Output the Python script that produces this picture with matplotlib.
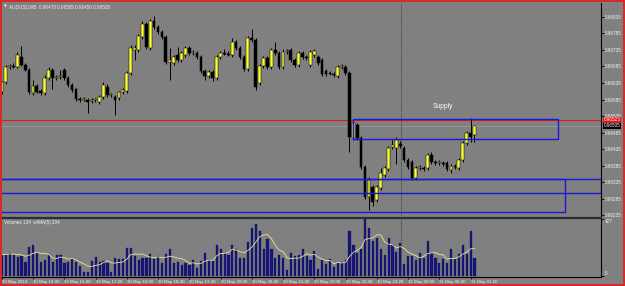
import matplotlib
matplotlib.use("Agg")
import matplotlib.pyplot as plt
import numpy as np
import pandas as pd
from matplotlib.patches import Rectangle

# AUDUSD M5, 30 May 15:20 .. 31 May 01:25
opens = [0.96608, 0.96638, 0.96684, 0.96687, 0.96684, 0.96714, 0.96690, 0.96674, 0.96605, 0.96626,
         0.96611, 0.96605, 0.96650, 0.96674, 0.96650, 0.96653, 0.96674, 0.96650, 0.96629, 0.96617,
         0.96587, 0.96584, 0.96584, 0.96581, 0.96584, 0.96578, 0.96593, 0.96623, 0.96599, 0.96593,
         0.96590, 0.96608, 0.96611, 0.96665, 0.96735, 0.96735, 0.96774, 0.96814, 0.96741, 0.96823,
         0.96805, 0.96790, 0.96774, 0.96699, 0.96696, 0.96720, 0.96705, 0.96720, 0.96741, 0.96726,
         0.96726, 0.96714, 0.96671, 0.96656, 0.96668, 0.96650, 0.96714, 0.96726, 0.96723, 0.96720,
         0.96759, 0.96741, 0.96714, 0.96677, 0.96771, 0.96765, 0.96635, 0.96687, 0.96711, 0.96684,
         0.96735, 0.96726, 0.96684, 0.96729, 0.96735, 0.96705, 0.96690, 0.96726, 0.96714, 0.96690,
         0.96720, 0.96714, 0.96705, 0.96671, 0.96665, 0.96662, 0.96656, 0.96684, 0.96684, 0.96665,
         0.96468, 0.96508, 0.96468, 0.96380, 0.96290, 0.96320, 0.96280, 0.96317, 0.96356, 0.96374,
         0.96441, 0.96438, 0.96450, 0.96438, 0.96402, 0.96396, 0.96347, 0.96377, 0.96377, 0.96377,
         0.96417, 0.96396, 0.96393, 0.96393, 0.96393, 0.96371, 0.96384, 0.96377, 0.96402, 0.96453,
         0.96484, 0.96478]
highs = [0.96641, 0.96690, 0.96693, 0.96696, 0.96729, 0.96747, 0.96696, 0.96680, 0.96644, 0.96632,
         0.96617, 0.96659, 0.96684, 0.96680, 0.96659, 0.96674, 0.96680, 0.96656, 0.96635, 0.96620,
         0.96593, 0.96593, 0.96590, 0.96590, 0.96590, 0.96599, 0.96638, 0.96632, 0.96605, 0.96599,
         0.96611, 0.96620, 0.96671, 0.96750, 0.96750, 0.96783, 0.96823, 0.96820, 0.96829, 0.96838,
         0.96811, 0.96796, 0.96780, 0.96741, 0.96720, 0.96744, 0.96732, 0.96747, 0.96747, 0.96735,
         0.96732, 0.96720, 0.96677, 0.96674, 0.96674, 0.96720, 0.96732, 0.96738, 0.96732, 0.96771,
         0.96765, 0.96747, 0.96720, 0.96777, 0.96799, 0.96771, 0.96693, 0.96717, 0.96717, 0.96741,
         0.96759, 0.96732, 0.96738, 0.96738, 0.96741, 0.96711, 0.96732, 0.96732, 0.96720, 0.96735,
         0.96738, 0.96720, 0.96711, 0.96677, 0.96671, 0.96668, 0.96690, 0.96693, 0.96690, 0.96671,
         0.96523, 0.96514, 0.96474, 0.96386, 0.96350, 0.96326, 0.96326, 0.96377, 0.96383, 0.96444,
         0.96462, 0.96471, 0.96459, 0.96444, 0.96408, 0.96402, 0.96383, 0.96386, 0.96383, 0.96423,
         0.96426, 0.96402, 0.96402, 0.96399, 0.96399, 0.96390, 0.96390, 0.96408, 0.96459, 0.96490,
         0.96529, 0.96505]
lows = [0.96602, 0.96632, 0.96678, 0.96680, 0.96680, 0.96687, 0.96671, 0.96602, 0.96599, 0.96605,
        0.96599, 0.96599, 0.96644, 0.96617, 0.96644, 0.96647, 0.96644, 0.96623, 0.96608, 0.96581,
        0.96577, 0.96581, 0.96544, 0.96575, 0.96578, 0.96572, 0.96587, 0.96593, 0.96593, 0.96538,
        0.96584, 0.96602, 0.96605, 0.96659, 0.96705, 0.96729, 0.96768, 0.96738, 0.96735, 0.96799,
        0.96784, 0.96768, 0.96693, 0.96644, 0.96690, 0.96699, 0.96699, 0.96714, 0.96720, 0.96720,
        0.96708, 0.96665, 0.96644, 0.96650, 0.96641, 0.96644, 0.96708, 0.96720, 0.96717, 0.96714,
        0.96735, 0.96708, 0.96671, 0.96671, 0.96759, 0.96614, 0.96629, 0.96681, 0.96678, 0.96678,
        0.96720, 0.96678, 0.96678, 0.96723, 0.96699, 0.96684, 0.96684, 0.96708, 0.96705, 0.96684,
        0.96714, 0.96690, 0.96656, 0.96656, 0.96659, 0.96653, 0.96650, 0.96678, 0.96659, 0.96426,
        0.96462, 0.96462, 0.96374, 0.96284, 0.96250, 0.96262, 0.96274, 0.96311, 0.96350, 0.96368,
        0.96435, 0.96390, 0.96438, 0.96396, 0.96374, 0.96341, 0.96341, 0.96371, 0.96368, 0.96371,
        0.96390, 0.96387, 0.96387, 0.96384, 0.96368, 0.96362, 0.96374, 0.96371, 0.96396, 0.96447,
        0.96456, 0.96456]
closes = [0.96638, 0.96684, 0.96687, 0.96684, 0.96720, 0.96690, 0.96674, 0.96608, 0.96626, 0.96608,
          0.96605, 0.96650, 0.96674, 0.96650, 0.96653, 0.96656, 0.96650, 0.96629, 0.96614, 0.96587,
          0.96584, 0.96587, 0.96578, 0.96584, 0.96587, 0.96593, 0.96629, 0.96599, 0.96602, 0.96584,
          0.96608, 0.96614, 0.96665, 0.96741, 0.96741, 0.96777, 0.96814, 0.96744, 0.96823, 0.96805,
          0.96790, 0.96774, 0.96699, 0.96705, 0.96714, 0.96705, 0.96726, 0.96741, 0.96726, 0.96729,
          0.96714, 0.96671, 0.96656, 0.96668, 0.96650, 0.96714, 0.96726, 0.96723, 0.96720, 0.96759,
          0.96741, 0.96714, 0.96677, 0.96771, 0.96765, 0.96623, 0.96687, 0.96711, 0.96684, 0.96735,
          0.96726, 0.96684, 0.96729, 0.96732, 0.96705, 0.96690, 0.96726, 0.96714, 0.96711, 0.96729,
          0.96732, 0.96696, 0.96662, 0.96662, 0.96662, 0.96659, 0.96684, 0.96687, 0.96665, 0.96471,
          0.96514, 0.96468, 0.96380, 0.96290, 0.96341, 0.96274, 0.96320, 0.96362, 0.96377, 0.96438,
          0.96447, 0.96462, 0.96444, 0.96402, 0.96380, 0.96347, 0.96377, 0.96380, 0.96374, 0.96417,
          0.96396, 0.96393, 0.96396, 0.96390, 0.96374, 0.96384, 0.96380, 0.96402, 0.96453, 0.96484,
          0.96471, 0.96505]
volumes = [159, 159, 174, 159, 144, 151, 106, 212, 234, 174, 106,
           121, 159, 106, 159, 159, 98, 106, 129, 106, 76,
           30, 30, 113, 144, 106,
           108, 98, 33, 136, 128, 128,
           205, 205, 150,
           121, 136, 136, 160, 128, 151, 100, 160,
           197, 98, 106, 83, 98, 83, 121, 60, 113, 174, 121, 113,
           234, 197, 174, 159, 234, 197, 136, 136, 250, 353, 385, 335,
           197, 272, 197, 136, 159, 136, 45, 174, 151, 159,
           197, 146, 121, 184, 53, 121, 91, 126, 66, 96, 104, 121,
           335, 227, 171, 202, 427, 360, 259, 285, 197, 159, 285, 227, 176,
           247, 91, 146, 151, 121, 171, 134, 259, 171, 134, 96, 126, 96, 202, 126,
           160, 230, 165, 331, 134]

price_ticks = [0.96835, 0.96785, 0.96735, 0.96685, 0.96635, 0.96585, 0.96535,
               0.96485, 0.96435, 0.96385, 0.96335, 0.96285, 0.96235]
time_ticks = [0, 8, 16, 24, 32, 40, 48, 56, 64, 72, 80, 88, 96, 104, 112, 120]
time_labels = ["30 May 2013", "30 May 16:00", "30 May 16:40", "30 May 17:20", "30 May 18:00",
               "30 May 18:40", "30 May 19:20", "30 May 20:00", "30 May 20:40", "30 May 21:20",
               "30 May 22:00", "30 May 22:40", "30 May 23:20", "31 May 00:00", "31 May 00:40",
               "31 May 01:20"]

# zones drawn on the chart (bar index from, to, price from, to)
supply_zone = (89.9, 142.3, 0.96466, 0.96527)
zone_a = (-5, 153.3, 0.96301, 0.96343)
zone_b = (-5, 144.2, 0.96245, 0.96343)
supply_label = (113, 0.96565)
alert_level = 0.96523
bid_level = 0.96505
vline_bar = 102.3

W, H = 625, 286
BG = "#808080"
TXT = "#f2f2f2"
FONT = ["Liberation Sans", "DejaVu Sans"]


def box(x0, y0, x1, y1):
    return [x0 / W, 1 - y1 / H, (x1 - x0) / W, (y1 - y0) / H]


df = pd.DataFrame({"o": opens, "h": highs, "l": lows, "c": closes, "v": volumes})
df["ma"] = df["v"].rolling(5, min_periods=1).mean()
x = np.arange(len(df))

fig = plt.figure(figsize=(W / 100, H / 100), dpi=100, facecolor=BG)

# ---- price window
ax = fig.add_axes(box(2, 3, 601, 216))
ax.set_facecolor(BG)
ax.set_xlim(0.077, 153.4)
ax.set_ylim(0.962320, 0.968774)

up = df["c"] >= df["o"]
ax.vlines(x, df["l"], df["h"], color="black", lw=0.7, zorder=3)
body = np.maximum((df["c"] - df["o"]).abs(), 0.000012)
ax.bar(x, body, bottom=np.minimum(df["o"], df["c"]), width=0.7,
       color=np.where(up, "#ffff30", "black"), edgecolor="black", linewidth=0.35, zorder=4)

ax.axhline(alert_level, color="#e01818", lw=0.8, zorder=2)
ax.axhline(bid_level, color="#9a9a9a", lw=0.6, zorder=1)
ax.axvline(vline_bar, color="#2a2a2a", lw=0.6, ls=(0, (1, 1.2)), zorder=2)

for x0, x1, y0, y1 in [supply_zone, zone_a, zone_b]:
    ax.add_patch(Rectangle((x0, y0), x1 - x0, y1 - y0, fill=False,
                           edgecolor="#1818d8", lw=1.0, zorder=5, clip_on=True))
ax.text(supply_label[0], supply_label[1], "Supply", color="white",
        fontsize=4.8, ha="center", va="center", family=FONT)

for s in ["top", "left", "bottom"]:
    ax.spines[s].set_visible(False)
ax.spines["right"].set_color("black")
ax.spines["right"].set_linewidth(0.8)
ax.set_xticks([])
ax.yaxis.tick_right()
ax.set_yticks(price_ticks)
ax.set_yticklabels([f"{p:.5f}" for p in price_ticks])
ax.tick_params(axis="y", length=1.8, width=0.6, color="black", pad=1.2,
               labelsize=3.3, labelcolor=TXT)
for t in ax.get_yticklabels():
    t.set_family(FONT)

lab = dict(fontsize=3.3, ha="left", va="center", family=FONT,
           transform=ax.get_yaxis_transform(), clip_on=False)
ax.text(1.004, alert_level, f"{alert_level:.5f}", color="white",
        bbox=dict(boxstyle="square,pad=0.15", fc="#e01818", ec="none"), **lab)
ax.text(1.004, bid_level, f"{bid_level:.5f}", color="white",
        bbox=dict(boxstyle="square,pad=0.15", fc="black", ec="none"), **lab)

fig.text(3.5 / W, 1 - 6.5 / H, "\u25bc", fontsize=2.6, color=TXT, va="center",
         family="DejaVu Sans")
fig.text(9 / W, 1 - 6.5 / H, "AUDUSD,M5  0.96478 0.96505 0.96456 0.96505",
         fontsize=3.35, color=TXT, va="center", family=FONT)

# ---- volume window
axv = fig.add_axes(box(2, 218, 601, 277))
axv.set_facecolor(BG)
axv.set_xlim(0.077, 153.4)
axv.set_ylim(-7.5, 431)
axv.bar(x, df["v"], width=0.55, color="#16167e", edgecolor="#0c0c50", linewidth=0.2, zorder=3)
axv.plot(x, df["ma"], color="#e6e69a", lw=0.6, zorder=4)
axv.axvline(vline_bar, color="#2a2a2a", lw=0.6, ls=(0, (1, 1.2)), zorder=2)

axv.spines["left"].set_visible(False)
axv.spines["top"].set_color("#2e2e2e")
axv.spines["top"].set_linewidth(1.6)
for s in ["right", "bottom"]:
    axv.spines[s].set_color("black")
    axv.spines[s].set_linewidth(0.8)
axv.yaxis.tick_right()
axv.set_yticks([0, 427])
axv.set_yticklabels([])
axv.tick_params(axis="y", length=1.8, width=0.6, color="black")
vl = dict(fontsize=3.3, color=TXT, ha="left", family=FONT,
          transform=axv.get_yaxis_transform(), clip_on=False)
axv.text(1.006, 427, "427", va="top", **vl)
axv.text(1.006, 0, "0", va="bottom", **vl)

axv.set_xticks(time_ticks)
axv.set_xticklabels(time_labels)
axv.tick_params(axis="x", length=1.5, width=0.6, color="black", pad=0.8,
                labelsize=3.2, labelcolor=TXT)
for t in axv.get_xticklabels():
    t.set_family(FONT)
    t.set_horizontalalignment("left")

axv.text(0.004, 0.93, "Volumes 134  w/MA(5) 204", transform=axv.transAxes,
         fontsize=3.3, color=TXT, va="center", family=FONT)

# red frame round the window
fig.add_artist(Rectangle((0.8 / W, 0.8 / H), 1 - 1.6 / W, 1 - 1.6 / H, transform=fig.transFigure,
                         fill=False, edgecolor="#e02020", lw=1.3))

fig.savefig("out.png", dpi=100, facecolor=BG)
